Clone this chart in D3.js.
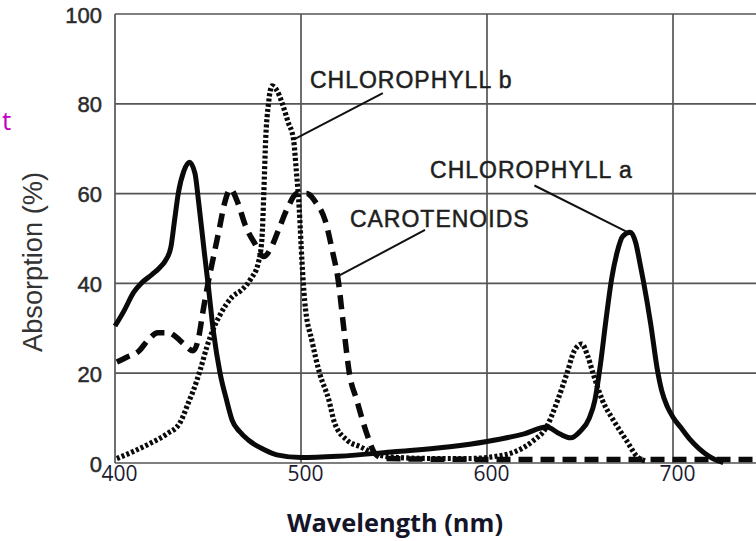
<!DOCTYPE html>
<html>
<head>
<meta charset="utf-8">
<script src="https://cdn.jsdelivr.net/npm/d3@7"></script>
<style>
  html, body { margin: 0; padding: 0; background: #ffffff; }
  svg { display: block; }
</style>
</head>
<body>
<div id="chart"></div>
<script>
// ---------------- DATA ----------------
const wavelengthTicks = [400, 500, 600, 700];
const absorptionTicks = [0, 20, 40, 60, 80, 100];

// [wavelength (nm), absorption (%)]
const chlorophyllA = [
  [400, 30.5], [405, 34], [410, 38], [414, 40], [420, 42], [424, 43.5], [427, 45],
  [430, 48], [432, 54], [434, 60], [437, 65], [440, 67], [443, 64.5], [445, 58],
  [448, 47], [450, 40], [453, 29], [456.5, 20], [460, 14], [463, 9.5], [467, 7],
  [472, 5], [480, 3], [487, 1.8], [500, 1.2], [520, 1.5], [550, 2.5], [580, 3.6],
  [600, 4.8], [620, 6.5], [632, 8], [639, 6.5], [645, 5.6], [650, 7], [655, 10],
  [658, 14], [661, 22], [664, 32], [667, 41], [670, 47], [673, 50.5], [677, 51.4],
  [680, 49], [682, 45], [684, 40.7], [688, 31], [691.5, 21], [694, 16], [697, 12.5],
  [700, 10.2], [704, 8], [709, 5.3], [714, 3.2], [719, 1.6], [724, 0.5], [727, 0.1]
];

const chlorophyllB = [
  [401, 1], [410, 2.6], [419, 4.4], [428, 6.5], [435, 9], [440, 14], [442, 16],
  [446, 21], [449.5, 26], [453, 30], [456.5, 33], [463, 37], [468, 38.5], [473, 41],
  [477, 44.5], [479, 50], [480, 60], [481, 72], [482.5, 80], [484.5, 84], [487, 83],
  [490, 80], [493, 76], [496, 72], [497.5, 65], [499, 57], [500.5, 45], [502, 36],
  [506, 27], [510, 20], [515, 14], [518, 9], [525, 5], [532, 3.6], [540, 2],
  [550, 1.3], [570, 1], [590, 1], [605, 1.5], [615, 2.5], [625, 5], [632, 8],
  [638, 14], [643, 20], [647, 25], [651, 26.5], [654, 24], [657, 20], [662, 14],
  [668, 9.5], [675, 5], [681, 1.3], [685, 0.5]
];

const carotenoids = [
  [401, 22.5], [406, 23.5], [413, 25], [418, 27.5], [423, 29], [429, 29], [433, 28],
  [437, 26.5], [442, 25], [445, 28], [447, 33], [450, 40], [453, 46], [456, 52],
  [459, 58], [462, 61], [466, 58], [470, 53], [475, 49], [480, 46], [484, 48],
  [488, 52], [493, 57], [498, 60], [503, 60], [508, 58], [513, 54], [517, 47],
  [520, 40.7], [523, 30], [526, 20], [530, 14], [535, 7], [540, 2], [545, 1],
  [600, 0.8], [650, 0.8], [700, 0.8], [750, 0.8]
];

const seriesNames = ["CHLOROPHYLL b", "CHLOROPHYLL a", "CAROTENOIDS"];
// label text start, leader start, leader end: in (wavelength, absorption)
const labelAnchors = [[504.8, 83.5], [569.4, 63.5], [526.3, 52.6]];
const leaderStarts = [[544, 82.4], [625.5, 61.8], [566.7, 51.9]];
const leaderEnds   = [[496, 72], [675.5, 51.4], [519.9, 41.6]];

const xTitle = "Wavelength (nm)";
const yTitle = "Absorption (%)";
const cutText = "t";

// ---------------- LAYOUT ----------------
const W = 756, H = 541;
const svg = d3.select("#chart").append("svg").attr("width", W).attr("height", H);
svg.append("rect").attr("width", W).attr("height", H).attr("fill", "#fff");

const x = d3.scaleLinear().domain([400, 750]).range([115, 766]);
const y = d3.scaleLinear().domain([0, 100]).range([463, 14]);

const gridColor = "#555";
const grid = svg.append("g");
grid.selectAll("line.h").data(absorptionTicks).join("line")
  .attr("x1", x(400)).attr("x2", W)
  .attr("y1", d => y(d)).attr("y2", d => y(d))
  .attr("stroke", gridColor).attr("stroke-width", 1.7);
grid.selectAll("line.v").data(wavelengthTicks).join("line")
  .attr("x1", d => x(d)).attr("x2", d => x(d))
  .attr("y1", y(100)).attr("y2", y(0))
  .attr("stroke", gridColor).attr("stroke-width", 1.7);

// y axis labels
const yAxis = d3.axisLeft(y).tickValues(absorptionTicks).tickSize(0).tickPadding(0);
const gy = svg.append("g").attr("transform", "translate(102,1)").call(yAxis);
gy.select(".domain").remove();
gy.selectAll("text")
  .attr("font-family", "'Liberation Sans', Arial, sans-serif")
  .attr("font-size", 22).attr("fill", "#2b2b2b")
  .attr("stroke", "#2b2b2b").attr("stroke-width", 0.5);

// x axis labels
const xAxis = d3.axisBottom(x).tickValues(wavelengthTicks).tickSize(0).tickPadding(0);
const gx = svg.append("g").attr("transform", "translate(4,466)").call(xAxis);
gx.select(".domain").remove();
gx.selectAll("text")
  .attr("font-family", "'Open Sans', sans-serif")
  .attr("font-size", 21).attr("fill", "#1b1b33").attr("dy", "0.71em");

// curves
const line = d3.line().x(d => x(d[0])).y(d => y(d[1])).curve(d3.curveMonotoneX);
const curves = svg.append("g").attr("fill", "none").attr("stroke", "#0a0a0a");
curves.append("path").datum(carotenoids).attr("d", line)
  .attr("stroke-width", 5.5).attr("stroke-dasharray", "14,8");
curves.append("path").datum(chlorophyllB).attr("d", line)
  .attr("stroke-width", 5.2).attr("stroke-dasharray", "3,2.2");
curves.append("path").datum(chlorophyllA).attr("d", line)
  .attr("stroke-width", 5).attr("stroke-linejoin", "round");

// annotations
const ann = svg.append("g");
seriesNames.forEach((name, i) => {
  ann.append("line")
    .attr("x1", x(leaderStarts[i][0])).attr("y1", y(leaderStarts[i][1]))
    .attr("x2", x(leaderEnds[i][0])).attr("y2", y(leaderEnds[i][1]))
    .attr("stroke", "#111").attr("stroke-width", 2);
  ann.append("text")
    .attr("x", x(labelAnchors[i][0])).attr("y", y(labelAnchors[i][1]))
    .attr("font-family", "'Liberation Sans', Arial, sans-serif")
    .attr("font-size", 23).attr("letter-spacing", 1)
    .attr("fill", "#1e1e1e").attr("stroke", "#1e1e1e").attr("stroke-width", 0.5)
    .text(name);
});

// axis titles
const xt = svg.append("text").attr("x", 395).attr("y", 532)
  .attr("text-anchor", "middle")
  .attr("font-family", "'Open Sans', sans-serif").attr("font-weight", "bold")
  .attr("font-size", 22).attr("fill", "#15152a").text(xTitle);
const xtLen = xt.node().getComputedTextLength();
xt.attr("font-size", 22 * 216 / xtLen);

const yt = svg.append("text").attr("transform", "translate(42,262) rotate(-90)")
  .attr("text-anchor", "middle")
  .attr("font-family", "'Liberation Sans', Arial, sans-serif")
  .attr("font-size", 26).attr("fill", "#333").text(yTitle);
const ytLen = yt.node().getComputedTextLength();
yt.attr("font-size", 26 * 180 / ytLen);

// magenta letter near the left edge
svg.append("text").attr("x", 2).attr("y", 130).attr("text-anchor", "start")
  .attr("font-family", "'Open Sans', sans-serif").attr("font-size", 26)
  .attr("fill", "#c000c0").text(cutText);
</script>
</body>
</html>
